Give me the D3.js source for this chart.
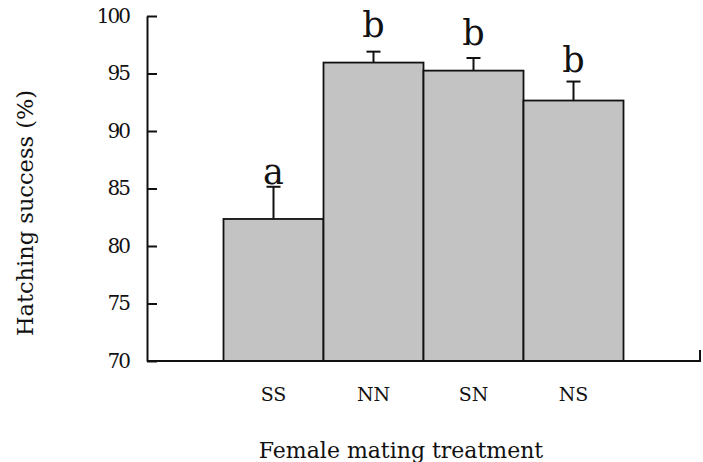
<!DOCTYPE html>
<html>
<head>
<meta charset="utf-8">
<script src="https://cdn.jsdelivr.net/npm/d3@7"></script>
<style>
  body { margin: 0; background: #fff; }
  svg text { font-family: 'DejaVu Serif', 'Liberation Serif', serif; fill: #111; }
</style>
</head>
<body>
<svg></svg>
<script>
var categories = ['SS', 'NN', 'SN', 'NS'];
var values = [82.35, 95.95, 95.25, 92.65];
var errors = [2.8, 0.95, 1.1, 1.65];
var letters = ['a', 'b', 'b', 'b'];
// letter baselines in percent
var letterAt = [85.4, 98.2, 97.5, 95.1];
var yTicks = [70, 75, 80, 85, 90, 95, 100];

var width = 703, height = 462;
// note: "top" is taken by window.top, so prefix these
var plotLeft = 147, plotRight = 700, plotTop = 16, plotBottom = 361;

var svg = d3.select('svg').attr('width', width).attr('height', height);

var x = d3.scaleBand().domain(categories).range([plotLeft, plotRight]).paddingInner(0).paddingOuter(0.765);
var y = d3.scaleLinear().domain([70, 100]).range([plotBottom, plotTop]);

// bars
svg.append('g').selectAll('rect').data(categories).enter().append('rect')
  .attr('x', function(d) { return x(d); })
  .attr('y', function(d, i) { return y(values[i]); })
  .attr('width', x.bandwidth())
  .attr('height', function(d, i) { return plotBottom - y(values[i]); })
  .attr('fill', '#c3c3c3')
  .attr('stroke', '#111')
  .attr('stroke-width', 1.8);

// error bars (upper only)
var err = svg.append('g').attr('stroke', '#111').attr('stroke-width', 2);
categories.forEach(function(c, i) {
  var cx = x(c) + x.bandwidth() / 2;
  err.append('line').attr('x1', cx).attr('x2', cx)
    .attr('y1', y(values[i])).attr('y2', y(values[i] + errors[i]));
  err.append('line').attr('x1', cx - 7).attr('x2', cx + 7)
    .attr('y1', y(values[i] + errors[i])).attr('y2', y(values[i] + errors[i]));
});

// significance letters
svg.append('g').selectAll('text').data(categories).enter().append('text')
  .attr('x', function(d) { return x(d) + x.bandwidth() / 2; })
  .attr('y', function(d, i) { return y(letterAt[i]); })
  .attr('text-anchor', 'middle')
  .style('font-size', '35px')
  .text(function(d, i) { return letters[i]; });

// y axis, ticks pointing inward
var yAxis = svg.append('g').attr('transform', 'translate(' + plotLeft + ',0)')
  .call(d3.axisLeft(y).tickValues(yTicks).tickSizeInner(-10).tickSizeOuter(0).tickPadding(18));
yAxis.selectAll('line').attr('stroke', '#111').attr('stroke-width', 2);
yAxis.select('.domain').attr('stroke', '#111').attr('stroke-width', 2);
yAxis.selectAll('text').style('font-size', '20px').style('letter-spacing', '-2px').attr('fill', '#111');

// x axis
var xAxis = svg.append('g').attr('transform', 'translate(0,' + plotBottom + ')')
  .call(d3.axisBottom(x).tickSize(0).tickPadding(27));
xAxis.select('.domain').remove();
xAxis.selectAll('text').style('font-size', '19px').attr('fill', '#111');
svg.append('path')
  .attr('d', 'M' + plotLeft + ',' + plotBottom + 'H' + plotRight + 'V' + (plotBottom - 11))
  .attr('fill', 'none').attr('stroke', '#111').attr('stroke-width', 2);

// axis titles
svg.append('text')
  .attr('x', 401).attr('y', 458)
  .attr('text-anchor', 'middle')
  .style('font-size', '22px')
  .text('Female mating treatment');

svg.append('text')
  .attr('transform', 'translate(33,213) rotate(-90)')
  .attr('text-anchor', 'middle')
  .style('font-size', '22.5px')
  .text('Hatching success (%)');
</script>
</body>
</html>
